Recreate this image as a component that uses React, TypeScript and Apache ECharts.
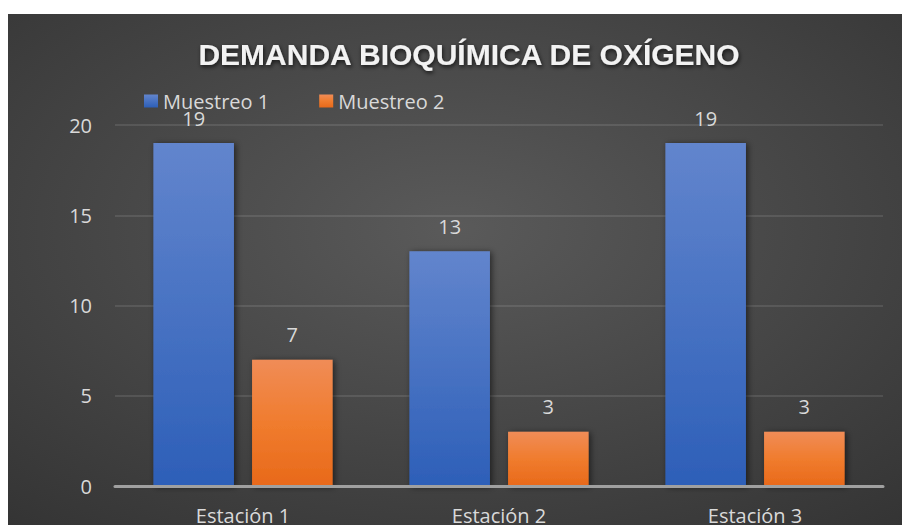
import React, { useEffect, useRef } from "react";
import * as echarts from "echarts";

const categories = ["Estación 1", "Estación 2", "Estación 3"];
const muestreo1 = [19, 13, 19];
const muestreo2 = [7, 3, 3];
const seriesNames = ["Muestreo 1", "Muestreo 2"];
const titleText = "DEMANDA BIOQUÍMICA DE OXÍGENO";

export default function App() {
  const ref = useRef<HTMLDivElement>(null);
  useEffect(() => {
    document.body.style.margin = "0";
    const chart = echarts.init(ref.current!, undefined, { renderer: "svg" });
    const font = "'Open Sans', sans-serif";
    const labelColor = "#d9d9d9";
    const barBase = {
      type: "bar" as const,
      barGap: "22.5%",
      barCategoryGap: "30%",
      label: {
        show: true,
        position: "top" as const,
        distance: 15,
        color: labelColor,
        fontSize: 20,
        fontFamily: font,
      },
    };
    chart.setOption({
      animation: false,
      backgroundColor: {
        type: "radial",
        x: 0.5,
        y: 0.42,
        r: 1.05,
        colorStops: [
          { offset: 0, color: "#5a5a5a" },
          { offset: 1, color: "#262626" },
        ],
      },
      title: {
        text: titleText,
        left: 461,
        top: 25,
        textAlign: "center",
        padding: 0,
        textStyle: {
          color: "#f2f2f2",
          fontSize: 30,
          fontWeight: "bold",
          fontFamily: "'Liberation Sans', Arial, sans-serif",
          textShadowColor: "rgba(0,0,0,0.7)",
          textShadowBlur: 4,
          textShadowOffsetX: 1,
          textShadowOffsetY: 2,
        },
      },
      legend: {
        data: seriesNames,
        left: 136,
        top: 77,
        padding: 0,
        itemGap: 50,
        itemWidth: 14,
        itemHeight: 13,
        icon: "rect",
        textStyle: { color: labelColor, fontSize: 20, fontFamily: font },
      },
      grid: { left: 107, right: 19, top: 111, bottom: 38, containLabel: false },
      xAxis: {
        type: "category",
        data: categories,
        axisTick: { show: false },
        axisLine: { show: true, lineStyle: { color: "#a0a0a0", width: 3 } },
        axisLabel: { color: labelColor, fontSize: 20, fontFamily: font, margin: 19 },
        z: 10,
      },
      yAxis: {
        type: "value",
        min: 0,
        max: 20,
        interval: 5,
        axisLine: { show: false },
        axisTick: { show: false },
        axisLabel: { color: labelColor, fontSize: 20, fontFamily: font, margin: 23 },
        splitLine: { lineStyle: { color: "rgba(255,255,255,0.1)", width: 2 } },
      },
      series: [
        {
          ...barBase,
          name: seriesNames[0],
          data: muestreo1,
          itemStyle: {
            color: {
              type: "linear",
              x: 0, y: 0, x2: 0, y2: 1,
              colorStops: [
                { offset: 0, color: "#6285cd" },
                { offset: 1, color: "#2d5fb8" },
              ],
            },
            shadowColor: "rgba(0,0,0,0.55)",
            shadowBlur: 6,
            shadowOffsetX: 2,
            shadowOffsetY: 1,
          },
        },
        {
          ...barBase,
          name: seriesNames[1],
          data: muestreo2,
          itemStyle: {
            color: {
              type: "linear",
              x: 0, y: 0, x2: 0, y2: 1,
              colorStops: [
                { offset: 0, color: "#f08c57" },
                { offset: 0.5, color: "#f07c2e" },
                { offset: 1, color: "#e8691a" },
              ],
            },
            shadowColor: "rgba(0,0,0,0.55)",
            shadowBlur: 6,
            shadowOffsetX: 2,
            shadowOffsetY: 1,
          },
        },
      ],
    });
    return () => chart.dispose();
  }, []);
  return (
    <div style={{ position: "fixed", left: 0, top: 0, width: 904, height: 525, background: "#ffffff" }}>
      <div ref={ref} style={{ position: "absolute", left: 8, top: 14, width: 894, height: 511 }} />
    </div>
  );
}
